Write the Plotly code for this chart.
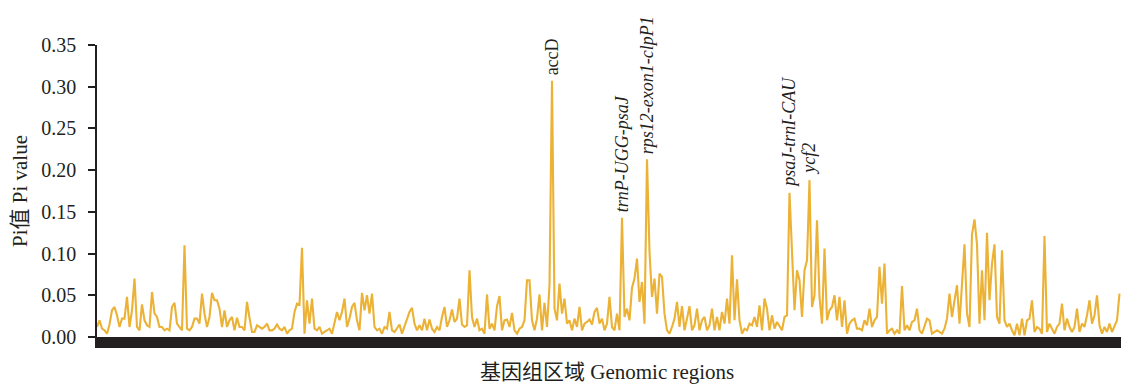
import plotly.graph_objects as go

# Nucleotide diversity (Pi) per sliding window along the plastome, in genome order
pi_seg1 = [0.012, 0.020, 0.010, 0.008, 0.004, 0.015, 0.032, 0.036, 0.026, 0.012,
           0.022, 0.022, 0.048, 0.012, 0.032, 0.070, 0.012, 0.008, 0.039, 0.020,
           0.014, 0.012, 0.054, 0.028, 0.024, 0.012, 0.012, 0.008, 0.010, 0.008,
           0.036, 0.041, 0.016, 0.012, 0.008, 0.110, 0.010, 0.008, 0.012, 0.022,
           0.022, 0.016, 0.052, 0.028, 0.012, 0.024, 0.053, 0.044, 0.044, 0.034,
           0.012, 0.032, 0.012, 0.020, 0.024, 0.008, 0.023, 0.012, 0.012, 0.008,
           0.042, 0.023, 0.006, 0.006, 0.014, 0.012, 0.010, 0.012]
pi_seg2 = [0.016, 0.008, 0.008, 0.010, 0.015, 0.010, 0.008, 0.012, 0.004, 0.008,
           0.010, 0.030, 0.040, 0.039, 0.107, 0.004, 0.044, 0.016, 0.046, 0.010,
           0.008, 0.012, 0.004, 0.006, 0.008, 0.010, 0.004, 0.018, 0.030, 0.020,
           0.030, 0.046, 0.012, 0.022, 0.036, 0.041, 0.020, 0.008, 0.053, 0.032,
           0.050, 0.028, 0.052, 0.012, 0.008, 0.010, 0.004, 0.012, 0.010, 0.030,
           0.008, 0.006, 0.010, 0.015, 0.004, 0.012, 0.020, 0.030, 0.035, 0.016,
           0.008, 0.014, 0.008, 0.022, 0.008, 0.021, 0.010, 0.006, 0.012, 0.008]
pi_seg3 = [0.024, 0.036, 0.012, 0.020, 0.033, 0.018, 0.022, 0.046, 0.015, 0.012,
           0.014, 0.080, 0.024, 0.012, 0.022, 0.008, 0.010, 0.004, 0.051, 0.010,
           0.016, 0.008, 0.037, 0.049, 0.008, 0.020, 0.021, 0.012, 0.029, 0.008,
           0.004, 0.010, 0.012, 0.020, 0.068, 0.068, 0.020, 0.008, 0.022, 0.051,
           0.008, 0.041, 0.012, 0.062, 0.307, 0.034, 0.020, 0.064, 0.028, 0.046,
           0.016, 0.020, 0.008, 0.022, 0.012, 0.036, 0.008, 0.016, 0.018, 0.021,
           0.015, 0.030, 0.035, 0.016, 0.022, 0.008, 0.016, 0.048]
pi_seg4 = [0.012, 0.008, 0.028, 0.008, 0.143, 0.024, 0.034, 0.020, 0.059, 0.070,
           0.094, 0.042, 0.066, 0.016, 0.213, 0.102, 0.048, 0.070, 0.028, 0.076,
           0.072, 0.028, 0.008, 0.004, 0.012, 0.022, 0.042, 0.012, 0.037, 0.008,
           0.022, 0.037, 0.008, 0.014, 0.034, 0.008, 0.020, 0.024, 0.008, 0.014,
           0.034, 0.008, 0.024, 0.008, 0.030, 0.016, 0.046, 0.016, 0.098, 0.020,
           0.069, 0.020, 0.004, 0.010, 0.008, 0.016, 0.014, 0.024, 0.012, 0.038,
           0.008, 0.046, 0.034, 0.008, 0.026, 0.010, 0.018]
pi_seg5 = [0.012, 0.008, 0.024, 0.026, 0.173, 0.104, 0.032, 0.080, 0.068, 0.024,
           0.080, 0.092, 0.188, 0.036, 0.050, 0.140, 0.048, 0.016, 0.106, 0.020,
           0.032, 0.036, 0.050, 0.020, 0.048, 0.012, 0.044, 0.004, 0.016, 0.020,
           0.022, 0.010, 0.010, 0.008, 0.020, 0.014, 0.034, 0.012, 0.020, 0.024,
           0.084, 0.040, 0.088, 0.004, 0.008, 0.010, 0.004, 0.008, 0.004, 0.061,
           0.008, 0.014, 0.008, 0.018, 0.020, 0.034, 0.008, 0.004, 0.012, 0.022,
           0.020, 0.004, 0.006, 0.008, 0.006, 0.004, 0.010, 0.022, 0.052]
pi_seg6 = [0.024, 0.044, 0.062, 0.016, 0.068, 0.111, 0.028, 0.012, 0.123, 0.141,
           0.111, 0.016, 0.080, 0.020, 0.125, 0.044, 0.088, 0.111, 0.024, 0.016,
           0.104, 0.020, 0.012, 0.016, 0.008, 0.002, 0.016, 0.002, 0.022, 0.002,
           0.020, 0.022, 0.044, 0.006, 0.012, 0.010, 0.004, 0.121, 0.006, 0.016,
           0.010, 0.004, 0.012, 0.016, 0.040, 0.008, 0.022, 0.012, 0.006, 0.012,
           0.034, 0.006, 0.016, 0.012, 0.026, 0.044, 0.016, 0.026, 0.050, 0.014,
           0.004, 0.012, 0.006, 0.016, 0.006, 0.014, 0.020, 0.052]

pi_values = pi_seg1 + pi_seg2 + pi_seg3 + pi_seg4 + pi_seg5 + pi_seg6
windows = list(range(len(pi_values)))

# Highly variable regions labelled above their peaks
hotspot_names = ["accD", "<i>trnP-UGG-psaJ</i>", "<i>rps12-exon1-clpP1</i>",
                 "<i>psaJ-trnI-CAU</i>", "<i>ycf2</i>"]
hotspot_windows = [182, 210, 220, 277, 285]

y_ticks = [0.00, 0.05, 0.10, 0.15, 0.20, 0.25, 0.30, 0.35]

INK = "#231f20"
GOLD = "#EBB236"
SERIF = "Liberation Serif, Times New Roman, Noto Sans CJK SC, serif"

fig = go.Figure()
fig.add_trace(go.Scatter(
    x=windows, y=pi_values, mode="lines",
    line=dict(color=GOLD, width=2.1),
    hoverinfo="skip", showlegend=False,
))

annotations = []
for name, w in zip(hotspot_names, hotspot_windows):
    annotations.append(dict(
        x=w, y=pi_values[w], xref="x", yref="y",
        text=name, textangle=-90, showarrow=False,
        xanchor="center", yanchor="bottom", yshift=3,
        font=dict(family=SERIF, size=18, color=INK),
    ))

# axis titles
annotations.append(dict(
    x=0.5, y=0, xref="paper", yref="paper", yshift=-35, xshift=-2,
    text="基因组区域 Genomic regions", showarrow=False,
    xanchor="center", yanchor="middle",
    font=dict(family=SERIF, size=21, color=INK),
))
annotations.append(dict(
    x=0, y=0.5, xref="paper", yref="paper", xshift=-77,
    text="Pi值 Pi value", showarrow=False, textangle=-90,
    xanchor="center", yanchor="middle",
    font=dict(family=SERIF, size=21, color=INK),
))

fig.update_layout(
    width=1121, height=385,
    margin=dict(l=97, r=0, t=45, b=48),
    paper_bgcolor="white", plot_bgcolor="white",
    annotations=annotations,
    xaxis=dict(
        range=[0, len(pi_values) - 0.4],
        showline=True, linewidth=11, linecolor=INK,
        showticklabels=False, ticks="", showgrid=False, zeroline=False,
    ),
    yaxis=dict(
        range=[0, 0.35],
        tickvals=y_ticks, tickformat=".2f",
        ticks="outside", ticklen=7, tickwidth=1.5, tickcolor=INK,
        showline=True, linewidth=1.5, linecolor=INK,
        showgrid=False, zeroline=False,
        ticklabelstandoff=8,
        tickfont=dict(family=SERIF, size=20, color=INK),
    ),
)

fig.write_html("out.html")
